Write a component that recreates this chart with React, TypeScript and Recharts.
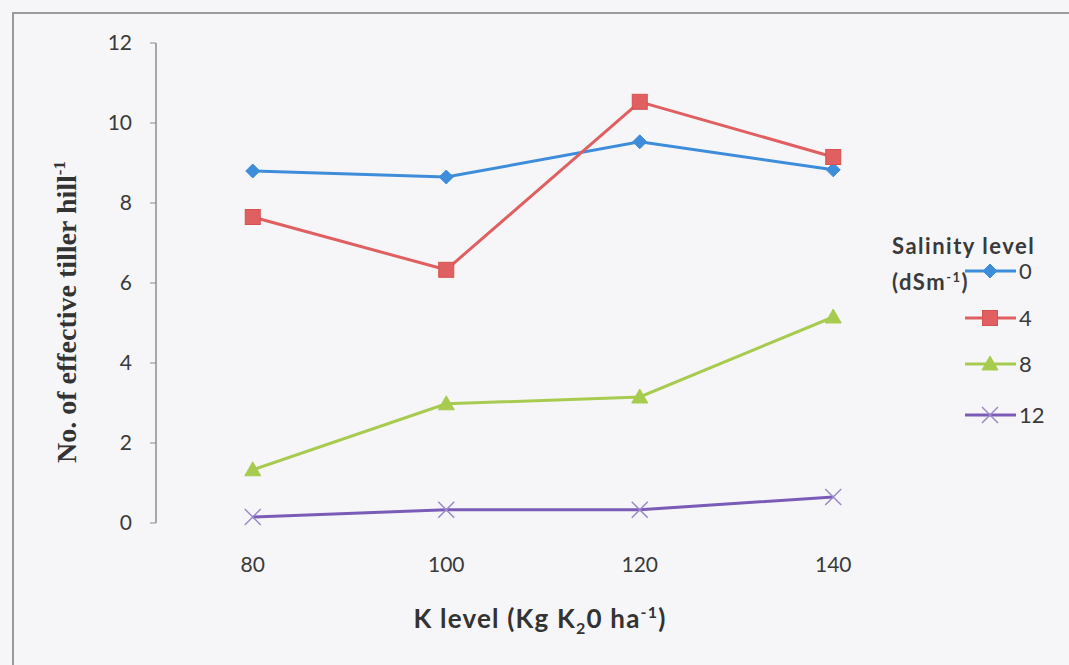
import React from "react";
import { LineChart, Line, XAxis, YAxis, Label } from "recharts";

const kLevels = [80, 100, 120, 140];
const sal0 = [8.8, 8.65, 9.53, 8.83];
const sal4 = [7.65, 6.33, 10.53, 9.15];
const sal8 = [1.33, 2.98, 3.15, 5.15];
const sal12 = [0.15, 0.33, 0.33, 0.65];
const yTicks = [0, 2, 4, 6, 8, 10, 12];
const xTicks = [80, 100, 120, 140];
const xBoundaryTicks = [70, 90, 110, 130, 150];
const seriesNames = ["0", "4", "8", "12"];

const data = kLevels.map((k, i) => ({
  k,
  s0: sal0[i],
  s4: sal4[i],
  s8: sal8[i],
  s12: sal12[i],
}));

const C0 = "#3d8ddb";
const C4 = "#e05f60";
const C8 = "#a7cb4f";
const C12 = "#7a5cb8";
const FONT = "Lato, 'Open Sans', sans-serif";

const Diamond = (p: any) => {
  const { cx, cy } = p;
  if (cx == null || cy == null) return null;
  const r = 7;
  return <path d={`M${cx},${cy - r}L${cx + r},${cy}L${cx},${cy + r}L${cx - r},${cy}Z`} fill={C0} stroke={C0} />;
};
const Square = (p: any) => {
  const { cx, cy } = p;
  if (cx == null || cy == null) return null;
  const r = 7.5;
  return <rect x={cx - r} y={cy - r} width={2 * r} height={2 * r} fill={C4} stroke="#d85050" strokeWidth={1} />;
};
const Tri = (p: any) => {
  const { cx, cy } = p;
  if (cx == null || cy == null) return null;
  const r = 8;
  return <path d={`M${cx},${cy - r}L${cx + r},${cy + r * 0.75}L${cx - r},${cy + r * 0.75}Z`} fill={C8} stroke={C8} />;
};
const Cross = (p: any) => {
  const { cx, cy } = p;
  if (cx == null || cy == null) return null;
  const r = 8;
  return (
    <path
      d={`M${cx - r},${cy - r}L${cx + r},${cy + r}M${cx - r},${cy + r}L${cx + r},${cy - r}`}
      stroke="#9a88c8"
      strokeWidth={1.5}
      fill="none"
    />
  );
};

const markers = [
  (x: number, y: number) => <Diamond cx={x} cy={y} />,
  (x: number, y: number) => <Square cx={x} cy={y} />,
  (x: number, y: number) => <Tri cx={x} cy={y} />,
  (x: number, y: number) => <Cross cx={x} cy={y} />,
];
const colors = [C0, C4, C8, C12];

const LegendOverlay = () => {
  const ys = [271, 318, 364, 415];
  return (
    <svg width={1069} height={665} style={{ position: "absolute", left: 0, top: 0, pointerEvents: "none" }}>
      <text x={892} y={254} fontFamily={FONT} fontWeight="bold" fontSize={22} letterSpacing={1.5} fill="#3a3a3a">
        Salinity level
      </text>
      <text x={892} y={290} fontFamily={FONT} fontWeight="bold" fontSize={22} letterSpacing={1.5} fill="#3a3a3a">
        (dSm
        <tspan dy={-8} fontSize={13}>-1</tspan>
        <tspan dy={8}>)</tspan>
      </text>
      {seriesNames.map((n, i) => (
        <g key={n}>
          <line x1={965} x2={1016} y1={ys[i]} y2={ys[i]} stroke={colors[i]} strokeWidth={3} />
          {markers[i](990, ys[i])}
          <text x={1019} y={ys[i] + 8} fontFamily={FONT} fontSize={22} fill="#3a3a3a">
            {n}
          </text>
        </g>
      ))}
    </svg>
  );
};

export default function App() {
  return (
    <div style={{ position: "absolute", left: 0, top: 0, width: 1069, height: 665, background: "#f6f6f9", overflow: "hidden" }}>
      <div
        style={{
          position: "absolute",
          left: 12,
          top: 12,
          width: 1080,
          height: 680,
          borderLeft: "2px solid #9a9a9a",
          borderTop: "2px solid #9a9a9a",
          boxSizing: "border-box",
        }}
      />
      <LineChart width={1069} height={665} data={data} margin={{ top: 43, right: 139, bottom: 112, left: 96 }}>
        <XAxis
          xAxisId="b"
          dataKey="k"
          type="number"
          domain={[70, 150]}
          ticks={xBoundaryTicks}
          tick={false}
          tickSize={6}
          axisLine={{ stroke: "#8c8c8c", strokeWidth: 1.5 }}
          tickLine={{ stroke: "#8c8c8c" }}
          height={0}
        />
        <XAxis
          dataKey="k"
          type="number"
          domain={[70, 150]}
          ticks={xTicks}
          axisLine={false}
          tickLine={false}
          tickMargin={28}
          height={30}
          tick={{ fontFamily: FONT, fontSize: 21, fill: "#3a3a3a" }}
        >
          <Label
            content={() => (
              <text x={540} y={628} textAnchor="middle" fontFamily={FONT} fontWeight="bold" fontSize={26} letterSpacing={1.2} fill="#333">
                K level (Kg K<tspan dy={6} fontSize={16}>2</tspan>
                <tspan dy={-6}>0 ha</tspan>
                <tspan dy={-10} fontSize={16}>-1</tspan>
                <tspan dy={10}>)</tspan>
              </text>
            )}
          />
        </XAxis>
        <YAxis
          width={60}
          domain={[0, 12]}
          ticks={yTicks}
          tickSize={6}
          tickMargin={18}
          axisLine={{ stroke: "#8c8c8c", strokeWidth: 1.5 }}
          tickLine={{ stroke: "#8c8c8c" }}
          tick={{ fontFamily: FONT, fontSize: 21, fill: "#3a3a3a" }}
        >
          <Label
            content={() => (
              <text
                x={0}
                y={0}
                transform="translate(76,312) rotate(-90)"
                textAnchor="middle"
                fontFamily="'Liberation Serif', 'DejaVu Serif', serif"
                fontWeight="bold"
                fontSize={28}
                fill="#333"
              >
                No. of effective tiller  hill<tspan dy={-11} fontSize={17}>-1</tspan>
              </text>
            )}
          />
        </YAxis>
        <Line dataKey="s0" name="0" stroke={C0} strokeWidth={3} dot={<Diamond />} isAnimationActive={false} />
        <Line dataKey="s4" name="4" stroke={C4} strokeWidth={3} dot={<Square />} isAnimationActive={false} />
        <Line dataKey="s8" name="8" stroke={C8} strokeWidth={3} dot={<Tri />} isAnimationActive={false} />
        <Line dataKey="s12" name="12" stroke={C12} strokeWidth={3} dot={<Cross />} isAnimationActive={false} />
      </LineChart>
      <LegendOverlay />
    </div>
  );
}
